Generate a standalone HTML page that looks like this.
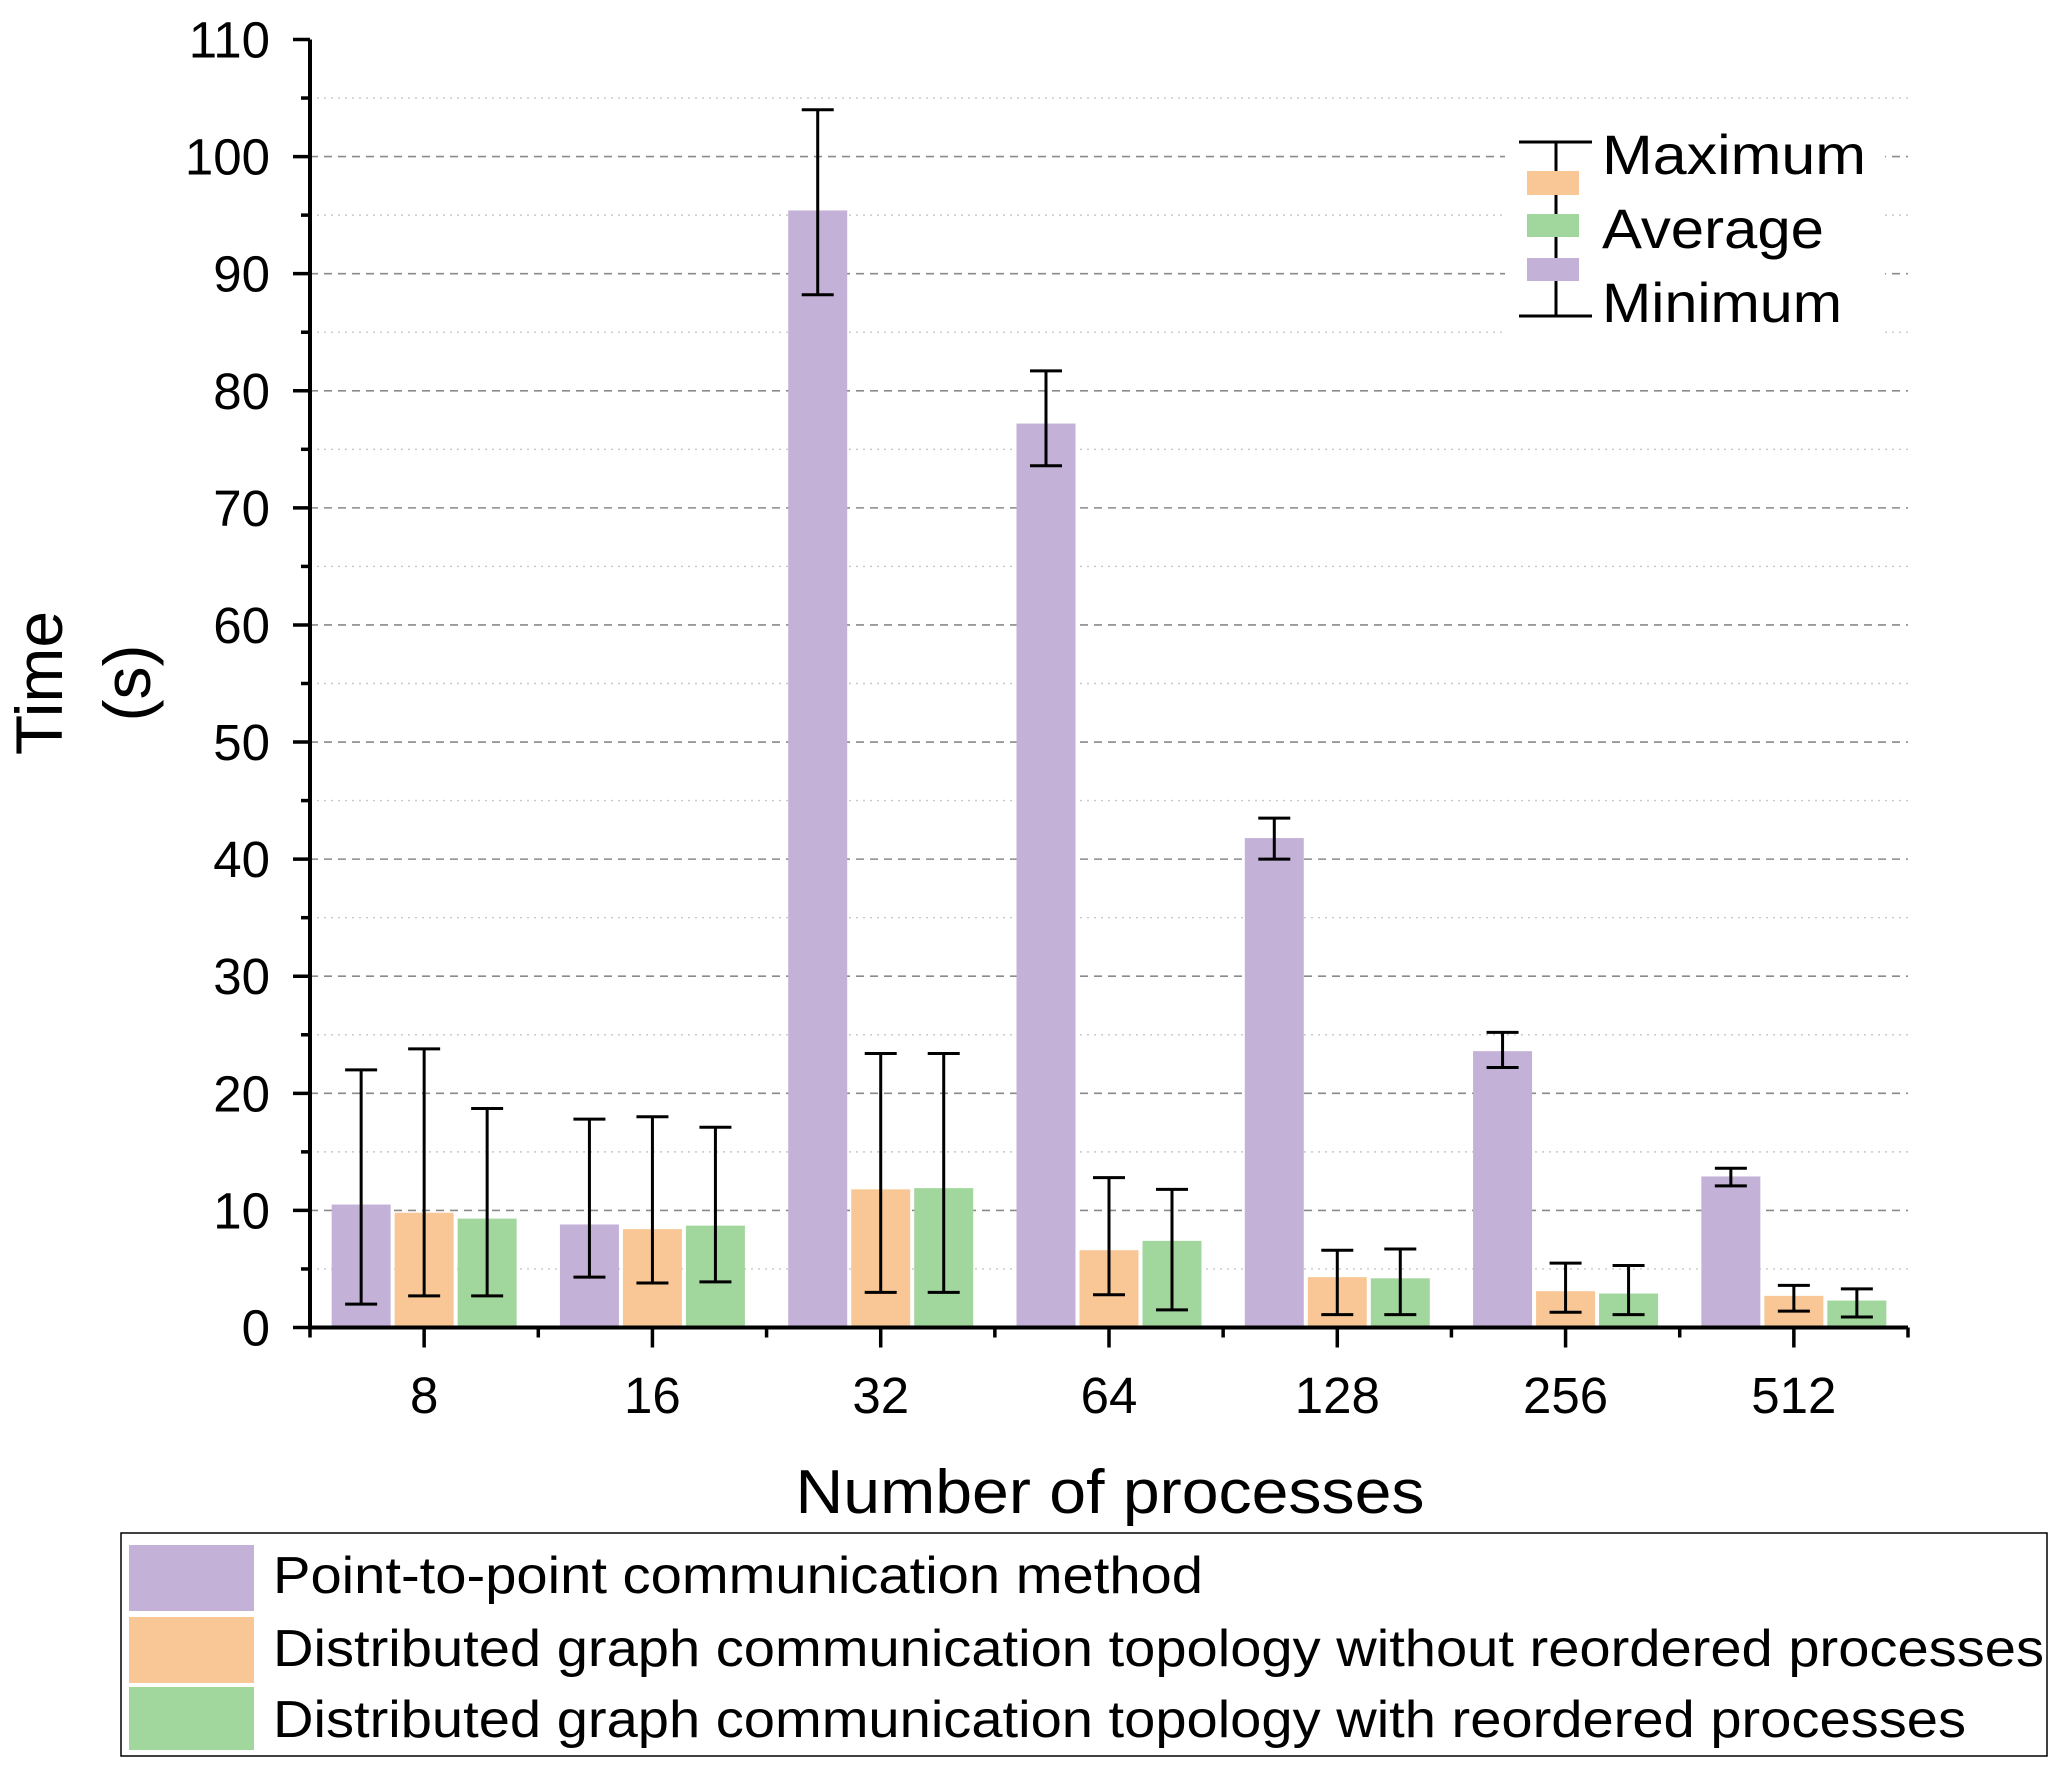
<!DOCTYPE html>
<html><head><meta charset="utf-8"><style>
html,body{margin:0;padding:0;background:#fff;}
svg{display:block;font-family:"Liberation Sans",Arial,sans-serif;}
</style></head><body>
<svg id="chart" width="2067" height="1776" viewBox="0 0 2067 1776" xmlns="http://www.w3.org/2000/svg">
<g id="grid"></g>
<g id="bars"></g>
<g id="axes"></g>
<g id="leg">
  <rect x="1505" y="128" width="380" height="205" fill="#fff"/>
  <line x1="1556" y1="142" x2="1556" y2="316" stroke="#000" stroke-width="3"/>
  <line x1="1519" y1="142" x2="1592" y2="142" stroke="#000" stroke-width="3"/>
  <line x1="1519" y1="316" x2="1592" y2="316" stroke="#000" stroke-width="3"/>
  <rect x="1527" y="171" width="52" height="24" fill="#F9C795"/>
  <rect x="1527" y="214" width="52" height="23" fill="#A1D69D"/>
  <rect x="1527" y="258" width="52" height="23" fill="#C3B1D7"/>
  <text x="1602" y="174" font-size="56" textLength="264" lengthAdjust="spacingAndGlyphs">Maximum</text>
  <text x="1602" y="248" font-size="56" textLength="222" lengthAdjust="spacingAndGlyphs">Average</text>
  <text x="1602" y="322" font-size="56" textLength="240" lengthAdjust="spacingAndGlyphs">Minimum</text>
</g>
<text x="62" y="683" font-size="66" text-anchor="middle" transform="rotate(-90 62 683)">Time</text>
<text x="150" y="683" font-size="66" text-anchor="middle" transform="rotate(-90 150 683)">(s)</text>
<text x="1110" y="1513" font-size="62" text-anchor="middle" textLength="629" lengthAdjust="spacingAndGlyphs">Number of processes</text>
<g>
  <rect x="121" y="1533" width="1926" height="223" fill="none" stroke="#000" stroke-width="1.5"/>
  <rect x="129" y="1545" width="125" height="66" fill="#C3B1D7"/>
  <rect x="129" y="1617" width="125" height="66" fill="#F9C795"/>
  <rect x="129" y="1687" width="125" height="63" fill="#A1D69D"/>
  <text x="273" y="1593" font-size="52" textLength="930" lengthAdjust="spacingAndGlyphs">Point-to-point communication method</text>
  <text x="273" y="1666" font-size="52" textLength="1771" lengthAdjust="spacingAndGlyphs">Distributed graph communication topology without reordered processes</text>
  <text x="273" y="1737" font-size="52" textLength="1693" lengthAdjust="spacingAndGlyphs">Distributed graph communication topology with reordered processes</text>
</g>
</svg>
<script>
const categories = ["8","16","32","64","128","256","512"];
const p2pAvg = [10.5, 8.8, 95.4, 77.2, 41.8, 23.6, 12.9];
const p2pMin = [2.0, 4.3, 88.2, 73.6, 40.0, 22.2, 12.1];
const p2pMax = [22.0, 17.8, 104.0, 81.7, 43.5, 25.2, 13.6];
const noReAvg = [9.8, 8.4, 11.8, 6.6, 4.3, 3.1, 2.7];
const noReMin = [2.7, 3.8, 3.0, 2.8, 1.1, 1.3, 1.4];
const noReMax = [23.8, 18.0, 23.4, 12.8, 6.6, 5.5, 3.6];
const reAvg = [9.3, 8.7, 11.9, 7.4, 4.2, 2.9, 2.3];
const reMin = [2.7, 3.9, 3.0, 1.5, 1.1, 1.1, 0.9];
const reMax = [18.7, 17.1, 23.4, 11.8, 6.7, 5.3, 3.3];
const yTicks = [0,10,20,30,40,50,60,70,80,90,100,110];

const NS = "http://www.w3.org/2000/svg";
const X0 = 310, X1 = 1908, Y0 = 1327.5, Y1 = 39.5, YMAX = 110;
const groupW = (X1 - X0) / categories.length;
function yScale(v){ return Y0 - (v / YMAX) * (Y0 - Y1); }
function xCenter(i){ return X0 + groupW * (i + 0.5); }
function mk(tag, attrs, parent){
  const e = document.createElementNS(NS, tag);
  for (const k in attrs) e.setAttribute(k, attrs[k]);
  parent.appendChild(e);
  return e;
}
const grid = document.getElementById('grid');
const bars = document.getElementById('bars');
const axes = document.getElementById('axes');

for (let v = 5; v <= 105; v += 5) {
  const major = v % 10 === 0;
  const l = mk('line', {x1: X0, x2: X1, y1: yScale(v), y2: yScale(v), stroke: major ? '#8a8a8a' : '#c8c8c8', 'stroke-width': major ? 1.6 : 1.4, 'stroke-dasharray': major ? '8,6' : '2,5'}, grid);
  
  
}

const series = [
  {avg: p2pAvg, mn: p2pMin, mx: p2pMax, color: '#C3B1D7', name: 'p2p'},
  {avg: noReAvg, mn: noReMin, mx: noReMax, color: '#F9C795', name: 'noreorder'},
  {avg: reAvg, mn: reMin, mx: reMax, color: '#A1D69D', name: 'reorder'}
];
const barW = 59, off = 63;
series.forEach((s, si) => {
  categories.forEach((c, i) => {
    const cx = xCenter(i) + (si - 1) * off;
    const y = yScale(s.avg[i]);
    const r = mk('rect', {x: cx - barW/2, y: y, width: barW, height: Y0 - y, fill: s.color}, bars);
    
    
    const yt = yScale(s.mx[i]), yb = yScale(s.mn[i]);
    const eb = mk('path', {d: `M${cx},${yt}V${yb}M${cx-16},${yt}H${cx+16}M${cx-16},${yb}H${cx+16}`, stroke: '#000', 'stroke-width': 3, fill: 'none'}, bars);
    
    
  });
});

const ax = mk('path', {d: `M${X0},${Y1}V${Y0}H${X1}`, stroke: '#000', 'stroke-width': 4, fill: 'none'}, axes);


for (let v = 0; v <= 110; v += 5) {
  const major = v % 10 === 0;
  const t = mk('line', {x1: major ? X0 - 17 : X0 - 9, x2: X0, y1: yScale(v), y2: yScale(v), stroke: '#000', 'stroke-width': 3.5}, axes);
  
  
}
yTicks.forEach(v => {
  const t = mk('text', {x: 270, y: yScale(v) + 18, 'font-size': 51, 'text-anchor': 'end'}, axes);
  t.textContent = v;
  
  
});
for (let i = 0; i <= categories.length; i++) {
  const x = X0 + groupW * i;
  const t = mk('line', {x1: x, x2: x, y1: Y0, y2: Y0 + 10, stroke: '#000', 'stroke-width': 3.5}, axes);
  
  
}
categories.forEach((c, i) => {
  const x = xCenter(i);
  const t = mk('line', {x1: x, x2: x, y1: Y0, y2: Y0 + 20, stroke: '#000', 'stroke-width': 3.5}, axes);
  
  
  const l = mk('text', {x: x, y: 1413, 'font-size': 51, 'text-anchor': 'middle'}, axes);
  l.textContent = c;
  
  
});
</script>
</body></html>
